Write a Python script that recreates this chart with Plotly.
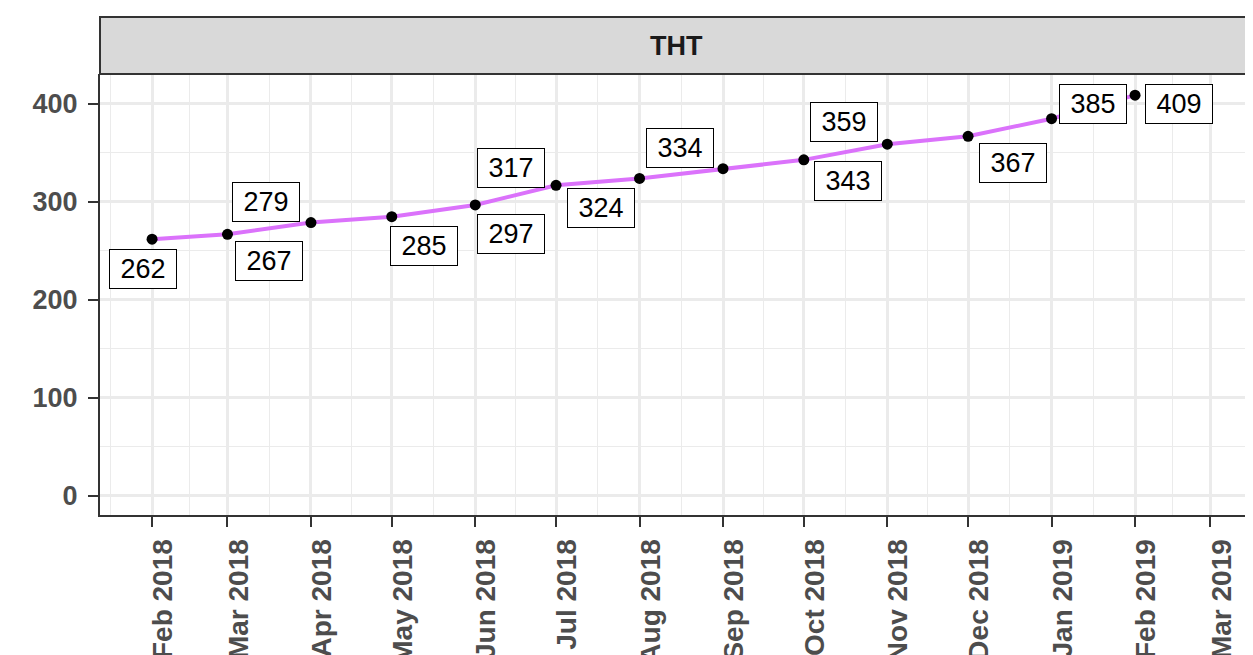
import pandas as pd
import plotly.graph_objects as go

panel = "THT"
dates = ["2018-02-01", "2018-03-01", "2018-04-01", "2018-05-01", "2018-06-01",
         "2018-07-01", "2018-08-01", "2018-09-01", "2018-10-01", "2018-11-01",
         "2018-12-01", "2019-01-01", "2019-02-01"]
values = [262, 267, 279, 285, 297, 317, 324, 334, 343, 359, 367, 385, 409]

tick_dates = ["2018-02-01", "2018-03-01", "2018-04-01", "2018-05-01", "2018-06-01",
              "2018-07-01", "2018-08-01", "2018-09-01", "2018-10-01", "2018-11-01",
              "2018-12-01", "2019-01-01", "2019-02-01", "2019-03-01"]
tick_text = ["Feb 2018", "Mar 2018", "Apr 2018", "May 2018", "Jun 2018", "Jul 2018",
             "Aug 2018", "Sep 2018", "Oct 2018", "Nov 2018", "Dec 2018", "Jan 2019",
             "Feb 2019", "Mar 2019"]
y_ticks = [0, 100, 200, 300, 400]

# label offsets in pixels (repelled labels), kept apart from the data
label_dx = [-9, 42, -45, 32, 36, -45, -39, -43, 44, -43, 45, 41, 44]
label_dy = [-30, -27, 21, -29, -29, 17, -30, 21, -21, 22, -27, 15, -9]

# minor breaks halfway between month starts, like ggplot
edges = pd.to_datetime(["2018-01-01"] + tick_dates + ["2019-04-01"])
minor = [edges[i] + (edges[i + 1] - edges[i]) / 2 for i in range(len(edges) - 1)]

fig = go.Figure()
fig.add_trace(go.Scatter(x=dates, y=values, mode="lines",
                         line=dict(color="#DB72FB", width=4), hoverinfo="skip"))
fig.add_trace(go.Scatter(x=dates, y=values, mode="markers",
                         marker=dict(color="black", size=11)))

for d, v, dx, dy in zip(dates, values, label_dx, label_dy):
    fig.add_annotation(x=d, y=v, xref="x", yref="y", text=str(v), showarrow=False,
                       xshift=dx, yshift=dy, width=66, height=38,
                       font=dict(size=27, color="black", family="Liberation Sans"),
                       bgcolor="white", bordercolor="black", borderwidth=1, borderpad=0)

strip_h = 57 / 441
fig.add_shape(type="rect", xref="paper", yref="paper", x0=0, x1=1.02, y0=1, y1=1 + strip_h,
              fillcolor="#D9D9D9", line=dict(color="#333333", width=2), layer="above")
fig.add_annotation(x=0.5, y=1 + strip_h / 2, xref="paper", yref="paper", text="<b>%s</b>" % panel,
                   showarrow=False, xanchor="center", yanchor="middle",
                   font=dict(size=27, color="#1A1A1A", family="Liberation Sans"))

fig.update_xaxes(type="date", range=["2018-01-12 16:00", "2019-03-16 19:00"],
                 tickmode="array", tickvals=tick_dates, ticktext=["<b>%s</b>" % t for t in tick_text],
                 tickangle=-90, ticks="outside", ticklen=10, tickwidth=2, tickcolor="#333333",
                 tickfont=dict(size=28, color="#4D4D4D", family="Liberation Sans"),
                 ticklabelstandoff=1, ticklabelshift=11,
                 showgrid=True, gridcolor="#EBEBEB", gridwidth=2.6,
                 minor=dict(tickmode="array", tickvals=minor, showgrid=True,
                            gridcolor="#EBEBEB", gridwidth=1.3),
                 showline=True, linecolor="#333333", linewidth=2, zeroline=False,
                 automargin=False)
fig.update_yaxes(range=[-19.4, 430.6], tickmode="array", tickvals=y_ticks,
                 ticktext=["<b>%d</b>" % t for t in y_ticks],
                 ticks="outside", ticklen=10, tickwidth=2, tickcolor="#333333",
                 tickfont=dict(size=27, color="#4D4D4D", family="Liberation Sans"),
                 ticklabelstandoff=5,
                 showgrid=True, gridcolor="#EBEBEB", gridwidth=2.6,
                 minor=dict(tickmode="array", tickvals=[50, 150, 250, 350], showgrid=True,
                            gridcolor="#EBEBEB", gridwidth=1.3),
                 showline=True, linecolor="#333333", linewidth=2, zeroline=False,
                 automargin=False)

# page body adds an 8px offset, so margins are trimmed to match
fig.update_layout(width=1253, height=655, showlegend=False,
                  margin=dict(l=92, r=8, t=66, b=148),
                  paper_bgcolor="white", plot_bgcolor="white")

fig.write_html("out.html")
